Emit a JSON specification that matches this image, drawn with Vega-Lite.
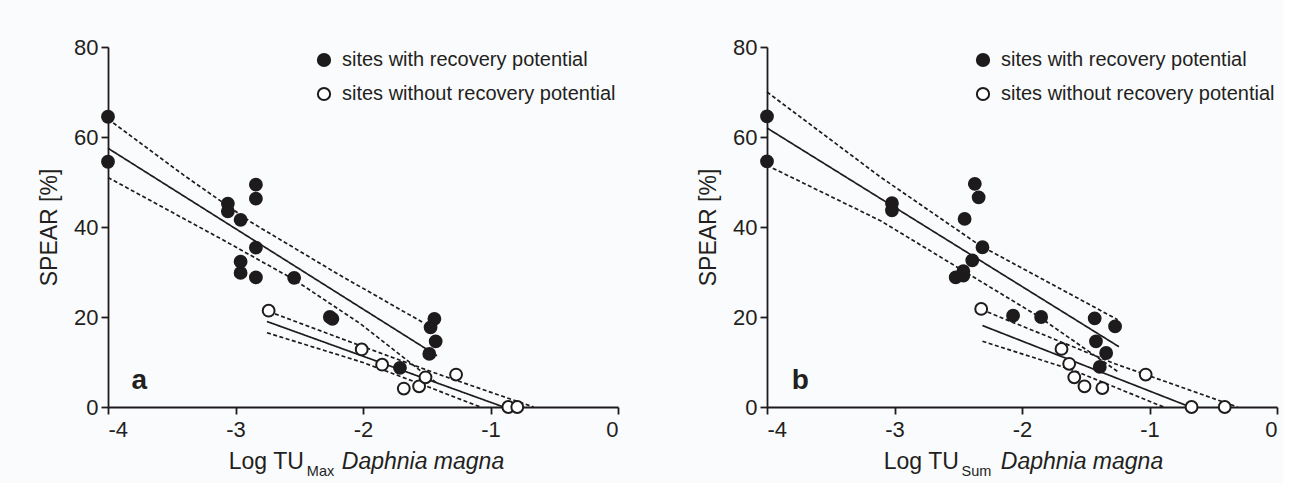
{
  "$schema": "https://vega.github.io/schema/vega-lite/v6.json",
  "background": "#fafbfd",
  "padding": {"left": 38, "top": 36, "right": 5, "bottom": 5},
  "bounds": "flush",
  "spacing": 149,
  "resolve": {"scale": {"fill": "independent", "strokeDash": "independent"}, "legend": {"fill": "independent"}},
  "datasets": {
    "pts": [
      {"panel": "a", "group": "sites with recovery potential", "x": -4.0, "y": 64.5},
      {"panel": "a", "group": "sites with recovery potential", "x": -4.0, "y": 54.5},
      {"panel": "a", "group": "sites with recovery potential", "x": -3.06, "y": 45.2},
      {"panel": "a", "group": "sites with recovery potential", "x": -3.06, "y": 43.5},
      {"panel": "a", "group": "sites with recovery potential", "x": -2.96, "y": 41.6},
      {"panel": "a", "group": "sites with recovery potential", "x": -2.84, "y": 49.4},
      {"panel": "a", "group": "sites with recovery potential", "x": -2.84, "y": 46.3},
      {"panel": "a", "group": "sites with recovery potential", "x": -2.84, "y": 35.4},
      {"panel": "a", "group": "sites with recovery potential", "x": -2.96, "y": 32.3},
      {"panel": "a", "group": "sites with recovery potential", "x": -2.96, "y": 29.8},
      {"panel": "a", "group": "sites with recovery potential", "x": -2.84, "y": 28.8},
      {"panel": "a", "group": "sites with recovery potential", "x": -2.54, "y": 28.7},
      {"panel": "a", "group": "sites with recovery potential", "x": -2.26, "y": 20.0},
      {"panel": "a", "group": "sites with recovery potential", "x": -2.24, "y": 19.6},
      {"panel": "a", "group": "sites with recovery potential", "x": -1.44, "y": 19.6},
      {"panel": "a", "group": "sites with recovery potential", "x": -1.47, "y": 17.7},
      {"panel": "a", "group": "sites with recovery potential", "x": -1.43, "y": 14.6},
      {"panel": "a", "group": "sites with recovery potential", "x": -1.48, "y": 11.8},
      {"panel": "a", "group": "sites with recovery potential", "x": -1.71, "y": 8.7},
      {"panel": "a", "group": "sites without recovery potential", "x": -2.74, "y": 21.4},
      {"panel": "a", "group": "sites without recovery potential", "x": -2.01, "y": 12.8},
      {"panel": "a", "group": "sites without recovery potential", "x": -1.85, "y": 9.4},
      {"panel": "a", "group": "sites without recovery potential", "x": -1.68, "y": 4.1},
      {"panel": "a", "group": "sites without recovery potential", "x": -1.56, "y": 4.6},
      {"panel": "a", "group": "sites without recovery potential", "x": -1.51, "y": 6.6},
      {"panel": "a", "group": "sites without recovery potential", "x": -1.27, "y": 7.2},
      {"panel": "a", "group": "sites without recovery potential", "x": -0.86, "y": 0.0},
      {"panel": "a", "group": "sites without recovery potential", "x": -0.79, "y": 0.0},
      {"panel": "b", "group": "sites with recovery potential", "x": -4.0, "y": 64.6},
      {"panel": "b", "group": "sites with recovery potential", "x": -4.0, "y": 54.6},
      {"panel": "b", "group": "sites with recovery potential", "x": -3.02, "y": 45.3},
      {"panel": "b", "group": "sites with recovery potential", "x": -3.02, "y": 43.7},
      {"panel": "b", "group": "sites with recovery potential", "x": -2.37, "y": 49.6},
      {"panel": "b", "group": "sites with recovery potential", "x": -2.34, "y": 46.6},
      {"panel": "b", "group": "sites with recovery potential", "x": -2.45, "y": 41.8},
      {"panel": "b", "group": "sites with recovery potential", "x": -2.31, "y": 35.5},
      {"panel": "b", "group": "sites with recovery potential", "x": -2.39, "y": 32.6},
      {"panel": "b", "group": "sites with recovery potential", "x": -2.52, "y": 28.8},
      {"panel": "b", "group": "sites with recovery potential", "x": -2.46, "y": 29.2},
      {"panel": "b", "group": "sites with recovery potential", "x": -2.46, "y": 30.2},
      {"panel": "b", "group": "sites with recovery potential", "x": -2.07, "y": 20.3},
      {"panel": "b", "group": "sites with recovery potential", "x": -1.85, "y": 20.0},
      {"panel": "b", "group": "sites with recovery potential", "x": -1.43, "y": 19.7},
      {"panel": "b", "group": "sites with recovery potential", "x": -1.27, "y": 17.9},
      {"panel": "b", "group": "sites with recovery potential", "x": -1.42, "y": 14.6},
      {"panel": "b", "group": "sites with recovery potential", "x": -1.34, "y": 12.0},
      {"panel": "b", "group": "sites with recovery potential", "x": -1.39, "y": 8.9},
      {"panel": "b", "group": "sites without recovery potential", "x": -2.32, "y": 21.8},
      {"panel": "b", "group": "sites without recovery potential", "x": -1.69, "y": 12.9},
      {"panel": "b", "group": "sites without recovery potential", "x": -1.63, "y": 9.6},
      {"panel": "b", "group": "sites without recovery potential", "x": -1.59, "y": 6.6},
      {"panel": "b", "group": "sites without recovery potential", "x": -1.51, "y": 4.6},
      {"panel": "b", "group": "sites without recovery potential", "x": -1.37, "y": 4.2},
      {"panel": "b", "group": "sites without recovery potential", "x": -1.03, "y": 7.2},
      {"panel": "b", "group": "sites without recovery potential", "x": -0.67, "y": 0.0},
      {"panel": "b", "group": "sites without recovery potential", "x": -0.41, "y": 0.0}
    ],
    "lines": [
      {"panel": "a", "group": "with", "kind": "fit", "x": -4.0, "y": 57.5},
      {"panel": "a", "group": "with", "kind": "fit", "x": -1.42, "y": 11.4},
      {"panel": "a", "group": "with", "kind": "upper", "x": -4.0, "y": 64.0},
      {"panel": "a", "group": "with", "kind": "upper", "x": -3.4, "y": 51.4},
      {"panel": "a", "group": "with", "kind": "upper", "x": -2.88, "y": 41.1},
      {"panel": "a", "group": "with", "kind": "upper", "x": -2.2, "y": 29.6},
      {"panel": "a", "group": "with", "kind": "upper", "x": -1.525, "y": 18.7},
      {"panel": "a", "group": "with", "kind": "lower", "x": -4.0, "y": 51.0},
      {"panel": "a", "group": "with", "kind": "lower", "x": -3.09, "y": 37.0},
      {"panel": "a", "group": "with", "kind": "lower", "x": -2.54, "y": 28.3},
      {"panel": "a", "group": "with", "kind": "lower", "x": -2.02, "y": 18.5},
      {"panel": "a", "group": "with", "kind": "lower", "x": -1.52, "y": 7.4},
      {"panel": "a", "group": "with", "kind": "lower", "x": -1.42, "y": 5.3},
      {"panel": "a", "group": "without", "kind": "fit", "x": -2.753, "y": 19.0},
      {"panel": "a", "group": "without", "kind": "fit", "x": -0.897, "y": 0.0},
      {"panel": "a", "group": "without", "kind": "upper", "x": -2.69, "y": 20.7},
      {"panel": "a", "group": "without", "kind": "upper", "x": -2.0, "y": 13.4},
      {"panel": "a", "group": "without", "kind": "upper", "x": -1.4, "y": 7.2},
      {"panel": "a", "group": "without", "kind": "upper", "x": -0.662, "y": 0.0},
      {"panel": "a", "group": "without", "kind": "lower", "x": -2.753, "y": 16.5},
      {"panel": "a", "group": "without", "kind": "lower", "x": -2.0, "y": 9.9},
      {"panel": "a", "group": "without", "kind": "lower", "x": -1.5, "y": 4.6},
      {"panel": "a", "group": "without", "kind": "lower", "x": -1.08, "y": 0.0},
      {"panel": "b", "group": "with", "kind": "fit", "x": -4.0, "y": 62.0},
      {"panel": "b", "group": "with", "kind": "fit", "x": -1.24, "y": 13.4},
      {"panel": "b", "group": "with", "kind": "upper", "x": -4.0, "y": 70.0},
      {"panel": "b", "group": "with", "kind": "upper", "x": -3.11, "y": 51.1},
      {"panel": "b", "group": "with", "kind": "upper", "x": -2.33, "y": 35.9},
      {"panel": "b", "group": "with", "kind": "upper", "x": -1.25, "y": 19.4},
      {"panel": "b", "group": "with", "kind": "lower", "x": -4.0, "y": 53.7},
      {"panel": "b", "group": "with", "kind": "lower", "x": -3.11, "y": 41.4},
      {"panel": "b", "group": "with", "kind": "lower", "x": -1.88, "y": 20.3},
      {"panel": "b", "group": "with", "kind": "lower", "x": -1.24, "y": 7.7},
      {"panel": "b", "group": "without", "kind": "fit", "x": -2.31, "y": 18.1},
      {"panel": "b", "group": "without", "kind": "fit", "x": -0.68, "y": 0.0},
      {"panel": "b", "group": "without", "kind": "upper", "x": -2.27, "y": 21.1},
      {"panel": "b", "group": "without", "kind": "upper", "x": -1.28, "y": 9.7},
      {"panel": "b", "group": "without", "kind": "upper", "x": -0.31, "y": 0.0},
      {"panel": "b", "group": "without", "kind": "lower", "x": -2.31, "y": 14.6},
      {"panel": "b", "group": "without", "kind": "lower", "x": -1.6, "y": 8.2},
      {"panel": "b", "group": "without", "kind": "lower", "x": -0.89, "y": 0.0}
    ],
    "labels": [
      {"panel": "a", "label": "a"},
      {"panel": "b", "label": "b"}
    ]
  },
  "hconcat": [
    {
      "width": 510,
      "height": 360,
      "resolve": {"axis": {"x": "independent"}},
      "layer": [
        {
          "data": {"name": "lines"},
          "transform": [{"filter": "datum.panel == 'a'"}],
          "mark": {"type": "line", "color": "#1e1b1c", "strokeWidth": 1.7},
          "encoding": {
            "x": {"field": "x", "type": "quantitative", "scale": {"domain": [-4, 0], "nice": false, "zero": false},
                  "axis": {"orient": "bottom", "values": [-4, -3, -2, -1, 0], "labelExpr": "datum.value", "title": "Log TU", "titleX": 195.3, "titleY": 61.5, "titleAlign": "right", "titleBaseline": "alphabetic"}},
            "y": {"field": "y", "type": "quantitative", "scale": {"domain": [0, 80], "nice": false},
                  "axis": {"values": [0, 20, 40, 60, 80], "title": "SPEAR [%]"}},
            "detail": {"field": "group"},
            "strokeDash": {"field": "kind", "type": "nominal", "scale": {"domain": ["fit", "upper", "lower"], "range": [[1, 0], [4, 2.5], [4, 2.5]]}, "legend": null}
          }
        },
        {
          "data": {"name": "pts"},
          "transform": [{"filter": "datum.panel == 'a'"}],
          "mark": {"type": "point", "shape": "circle", "filled": false, "stroke": "#1e1b1c", "strokeWidth": 2, "size": 140, "opacity": 1},
          "encoding": {
            "x": {"field": "x", "type": "quantitative",
                  "axis": {"orient": "bottom", "labels": false, "ticks": false, "domain": false, "title": "Max", "titleFontSize": 14.5, "titleX": 198.3, "titleY": 68.5, "titleAlign": "left", "titleBaseline": "alphabetic"}},
            "y": {"field": "y", "type": "quantitative", "axis": {"values": [0, 20, 40, 60, 80], "title": "SPEAR [%]"}},
            "fill": {"field": "group", "type": "nominal",
                     "scale": {"domain": ["sites with recovery potential", "sites without recovery potential"], "range": ["#1e1b1c", "#ffffff"]},
                     "legend": {"title": null, "orient": "none", "legendX": 206, "legendY": 3, "padding": 0, "labelFontSize": 20, "labelLimit": 0, "labelColor": "#231f20", "symbolType": "circle", "symbolSize": 150, "symbolStrokeColor": "#1e1b1c", "symbolStrokeWidth": 2, "rowPadding": 12, "labelOffset": 8}}
          }
        },
        {
          "data": {"name": "labels"},
          "transform": [{"filter": "datum.panel == 'a'"}],
          "mark": {"type": "text", "fontSize": 28, "fontWeight": "bold", "color": "#231f20", "align": "center", "baseline": "alphabetic"},
          "encoding": {
            "x": {"datum": -3.754, "type": "quantitative",
                  "axis": {"orient": "bottom", "labels": false, "ticks": false, "domain": false, "title": "Daphnia magna", "titleFontStyle": "italic", "titleX": 233.3, "titleY": 61.5, "titleAlign": "left", "titleBaseline": "alphabetic"}},
            "y": {"datum": 4.1, "type": "quantitative", "axis": {"values": [0, 20, 40, 60, 80], "title": "SPEAR [%]"}},
            "text": {"field": "label"}
          }
        }
      ]
    },
    {
      "width": 510,
      "height": 360,
      "resolve": {"axis": {"x": "independent"}},
      "layer": [
        {
          "data": {"name": "lines"},
          "transform": [{"filter": "datum.panel == 'b'"}],
          "mark": {"type": "line", "color": "#1e1b1c", "strokeWidth": 1.7},
          "encoding": {
            "x": {"field": "x", "type": "quantitative", "scale": {"domain": [-4, 0], "nice": false, "zero": false},
                  "axis": {"orient": "bottom", "values": [-4, -3, -2, -1, 0], "labelExpr": "datum.value", "title": "Log TU", "titleX": 191.3, "titleY": 61.5, "titleAlign": "right", "titleBaseline": "alphabetic"}},
            "y": {"field": "y", "type": "quantitative", "scale": {"domain": [0, 80], "nice": false},
                  "axis": {"values": [0, 20, 40, 60, 80], "title": "SPEAR [%]"}},
            "detail": {"field": "group"},
            "strokeDash": {"field": "kind", "type": "nominal", "scale": {"domain": ["fit", "upper", "lower"], "range": [[1, 0], [4, 2.5], [4, 2.5]]}, "legend": null}
          }
        },
        {
          "data": {"name": "pts"},
          "transform": [{"filter": "datum.panel == 'b'"}],
          "mark": {"type": "point", "shape": "circle", "filled": false, "stroke": "#1e1b1c", "strokeWidth": 2, "size": 140, "opacity": 1},
          "encoding": {
            "x": {"field": "x", "type": "quantitative",
                  "axis": {"orient": "bottom", "labels": false, "ticks": false, "domain": false, "title": "Sum", "titleFontSize": 14.5, "titleX": 194, "titleY": 68.5, "titleAlign": "left", "titleBaseline": "alphabetic"}},
            "y": {"field": "y", "type": "quantitative", "axis": {"values": [0, 20, 40, 60, 80], "title": "SPEAR [%]"}},
            "fill": {"field": "group", "type": "nominal",
                     "scale": {"domain": ["sites with recovery potential", "sites without recovery potential"], "range": ["#1e1b1c", "#ffffff"]},
                     "legend": {"title": null, "orient": "none", "legendX": 206, "legendY": 3, "padding": 0, "labelFontSize": 20, "labelLimit": 0, "labelColor": "#231f20", "symbolType": "circle", "symbolSize": 150, "symbolStrokeColor": "#1e1b1c", "symbolStrokeWidth": 2, "rowPadding": 12, "labelOffset": 8}}
          }
        },
        {
          "data": {"name": "labels"},
          "transform": [{"filter": "datum.panel == 'b'"}],
          "mark": {"type": "text", "fontSize": 28, "fontWeight": "bold", "color": "#231f20", "align": "center", "baseline": "alphabetic"},
          "encoding": {
            "x": {"datum": -3.739, "type": "quantitative",
                  "axis": {"orient": "bottom", "labels": false, "ticks": false, "domain": false, "title": "Daphnia magna", "titleFontStyle": "italic", "titleX": 233.3, "titleY": 61.5, "titleAlign": "left", "titleBaseline": "alphabetic"}},
            "y": {"datum": 4.1, "type": "quantitative", "axis": {"values": [0, 20, 40, 60, 80], "title": "SPEAR [%]"}},
            "text": {"field": "label"}
          }
        }
      ]
    }
  ],
  "config": {
    "font": "Liberation Sans",
    "view": {"stroke": null},
    "axis": {
      "grid": false,
      "domainColor": "#1e1b1c",
      "tickColor": "#1e1b1c",
      "labelColor": "#231f20",
      "titleColor": "#231f20",
      "domainWidth": 1.8,
      "tickWidth": 1.8,
      "tickSize": 7,
      "labelFontSize": 22,
      "titleFontSize": 23,
      "titleFontWeight": "normal"
    },
    "axisX": {"labelPadding": 5},
    "axisY": {"labelPadding": 3, "titlePadding": 12},
    "legend": {"labelFont": "Liberation Sans"}
  }
}
